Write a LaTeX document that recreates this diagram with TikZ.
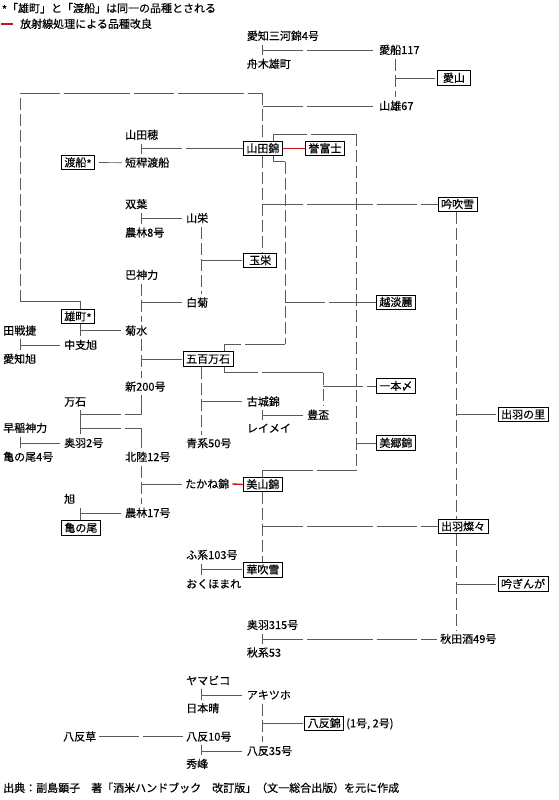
\documentclass[tikz,border=0pt]{standalone}
\usepackage{fontspec}
\newfontfamily\jpf{Noto Sans CJK JP}[FakeBold=0.35]
\newcommand\jpt{\jpf\fontsize{11pt}{13pt}\selectfont}
\newcommand\vstar{\raisebox{-1.5pt}{*}}
\definecolor{lngray}{RGB}{90,90,90}
\definecolor{radred}{RGB}{205,20,20}
\tikzset{
  nm/.style={anchor=west,inner xsep=3pt,inner ysep=3pt,text height=9.5pt,text depth=1.5pt,font=\jpt},
  vb/.style={draw=black,line width=0.8pt,fill=white,anchor=west,minimum width=33pt,minimum height=14.5pt,
    inner xsep=3pt,inner ysep=0pt,text height=9.5pt,text depth=1.5pt,font=\jpt},
  ln/.style={draw=lngray,line width=0.7pt},
  hl/.style={ln,dash pattern=on 40pt off 4pt on 66pt off 4pt},
  vl/.style={ln,dash pattern=on 12pt off 4pt},
  rl/.style={draw=radred,line width=1.4pt}
}
\begin{document}
\begin{tikzpicture}[x=1pt,y=-1pt]
  \useasboundingbox (0,0) rectangle (559,800);
  % Columns and rows for routing
  \coordinate (xA) at (20,0);
  \coordinate (xB) at (80.7,0);
  \coordinate (xC) at (141.7,0);
  \coordinate (xD) at (201.7,0);
  \coordinate (xL) at (224,0);
  \coordinate (xE) at (262.7,0);
  \coordinate (xF) at (273.3,0);
  \coordinate (xG) at (285,0);
  \coordinate (xH) at (323.3,0);
  \coordinate (xI) at (356.7,0);
  \coordinate (xJ) at (395,0);
  \coordinate (xK) at (456,0);
  \coordinate (yTop) at (0,93);
  \coordinate (yYa1) at (0,134.3);
  \coordinate (yYa2) at (0,161.7);
  \coordinate (yOm) at (0,301.7);
  \coordinate (yGo1) at (0,344);
  \coordinate (yGo2) at (0,372.7);
  \coordinate (yMa1) at (0,414);
  \coordinate (yMa2) at (0,428.3);
  \coordinate (yMi) at (0,470);

  % Legend
  \node[nm] (note1) at (-1.3,8.3) {\vstar「雄町」と「渡船」は同一の品種とされる};
  \node[nm] (note2) at (17,24) {放射線処理による品種改良};
  \draw[rl,line width=2pt] ([xshift=-16pt]note2.west) -- ([xshift=-4.5pt]note2.west);

  % Plain varieties
  \node[nm] (aichimikawa) at (243.7,36) {愛知三河錦4号};
  \node[nm] (funaki) at (243.7,64) {舟木雄町};
  \node[nm] (aifune) at (376,50) {愛船117};
  \node[nm] (sanyu) at (376,106) {山雄67};
  \node[nm] (yamadaho) at (122,135) {山田穂};
  \node[nm] (tankan) at (122,162.7) {短稈渡船};
  \node[nm] (futaba) at (122,204.3) {双葉};
  \node[nm] (norin8) at (122,232.7) {農林8号};
  \node[nm] (yamasakae) at (183,218.3) {山栄};
  \node[nm] (tomoe) at (122,275) {巴神力};
  \node[nm] (shiragiku) at (183,302.7) {白菊};
  \node[nm] (densen) at (0,330.7) {田戦捷};
  \node[nm] (kikusui) at (122,330.7) {菊水};
  \node[nm] (chushi) at (61,345) {中支旭};
  \node[nm] (aichiasahi) at (0,359) {愛知旭};
  \node[nm] (shin200) at (122,386.7) {新200号};
  \node[nm] (mangoku) at (61,401.7) {万石};
  \node[nm] (kojo) at (243.7,401.7) {古城錦};
  \node[nm] (hosai) at (304,415) {豊盃};
  \node[nm] (reimei) at (243.7,428.3) {レイメイ};
  \node[nm] (wase) at (0,428) {早稲神力};
  \node[nm] (ou2) at (61,443) {奥羽2号};
  \node[nm] (seikei) at (183,443.3) {青系50号};
  \node[nm] (hoku12) at (122,457) {北陸12号};
  \node[nm] (kamenoo4) at (0,457) {亀の尾4号};
  \node[nm] (takane) at (182,484) {たかね錦};
  \node[nm] (asahi) at (61,499) {旭};
  \node[nm] (norin17) at (122,513) {農林17号};
  \node[nm] (fukei) at (183,555) {ふ系103号};
  \node[nm] (okuhomare) at (183,584) {おくほまれ};
  \node[nm] (ou315) at (243.7,625) {奥羽315号};
  \node[nm] (akita49) at (437,639) {秋田酒49号};
  \node[nm] (akikei) at (243.7,652.7) {秋系53};
  \node[nm] (yamabiko) at (183,680.7) {ヤマビコ};
  \node[nm] (akitsuho) at (243.7,695) {アキツホ};
  \node[nm] (nihonbare) at (183,708.3) {日本晴};
  \node[nm] (hattan10) at (183,736.7) {八反10号};
  \node[nm] (hattangusa) at (60,736.7) {八反草};
  \node[nm] (hattan35) at (243.7,751) {八反35号};
  \node[nm] (shuho) at (183,764) {秀峰};

  % Boxed varieties
  \node[vb] (aiyama) at (437,78) {愛山};
  \node[vb] (yamadanishiki) at (243,148.5) {山田錦};
  \node[vb] (homarefuji) at (305,148.5) {誉富士};
  \node[vb] (watafune) at (61,162.5) {渡船\vstar};
  \node[vb] (ginfubuki) at (437.7,204.3) {吟吹雪};
  \node[vb] (tamasakae) at (243.3,260.5) {玉栄};
  \node[vb] (koshitanrei) at (376,302.2) {越淡麗};
  \node[vb] (omachi) at (61,316.5) {雄町\vstar};
  \node[vb] (gohyaku) at (182.7,359) {五百万石};
  \node[vb] (ippon) at (376,386) {一本〆};
  \node[vb] (dewanosato) at (497.7,414.5) {出羽の里};
  \node[vb] (misato) at (376,443) {美郷錦};
  \node[vb] (miyama) at (243,484.5) {美山錦};
  \node[vb] (kamenoo) at (61,528) {亀の尾};
  \node[vb] (dewasansan) at (437.7,526.5) {出羽燦々};
  \node[vb] (hanafubuki) at (243,569.7) {華吹雪};
  \node[vb] (ginginga) at (497.7,584) {吟ぎんが};
  \node[vb] (hattannishiki) at (304.3,723.3) {八反錦};
  \node[nm,inner xsep=2pt] (hattannote) at (hattannishiki.east) {(1号, 2号)};

  % Aiyama
  \draw[ln] (aichimikawa.south -| xE) -- (funaki.north -| xE);
  \draw[hl] (aifune.west -| xE) -- (aifune.west);
  \draw[vl] (aifune.south -| xJ) -- (sanyu.north -| xJ);
  \draw[hl] (aiyama.west -| xJ) -- (aiyama.west);

  % Omachi loop to Yamada-nishiki
  \draw[ln] (omachi.north -| xB) |- (xA |- yOm);
  \draw[vl] (xA |- yOm) -- (xA |- yTop);
  \draw[hl] (xA |- yTop) -- (xE |- yTop);
  \draw[vl] (xE |- yTop) -- (yamadanishiki.north -| xE);
  \draw[hl] (sanyu.west -| xE) -- (sanyu.west);

  % Yamada-nishiki
  \draw[ln] (yamadaho.south -| xC) -- (tankan.north -| xC);
  \draw[hl] (yamadanishiki.west -| xC) -- (yamadanishiki.west);
  \draw[ln,shorten <=4pt] (watafune.east) -- (tankan.west);
  \draw[rl] (yamadanishiki.east) -- (homarefuji.west);

  % Yamada-nishiki to Misato-nishiki
  \draw[hl] (yamadanishiki.north -| xF) |- (xI |- yYa1);
  \draw[vl] (xI |- yYa1) -- (xI |- yMi);
  \draw[hl] (xI |- yMi) -| (miyama.north -| xE);
  \draw[hl] (misato.west -| xI) -- (misato.west);

  % Yamada-nishiki to Koshitanrei
  \draw[ln] (yamadanishiki.south -| xF) |- (xG |- yYa2);
  \draw[vl] (xG |- yYa2) -- (xG |- yGo1);
  \draw[hl] (xG |- yGo1) -| (gohyaku.north -| xL);
  \draw[hl] (koshitanrei.west -| xG) -- (koshitanrei.west);

  % Ginfubuki
  \draw[vl] (yamadanishiki.south -| xE) -- (tamasakae.north -| xE);
  \draw[hl] (ginfubuki.west -| xE) -- (ginfubuki.west);

  % Tamasakae
  \draw[ln] (futaba.south -| xC) -- (norin8.north -| xC);
  \draw[hl] (yamasakae.west -| xC) -- (yamasakae.west);
  \draw[vl] (yamasakae.south -| xD) -- (shiragiku.north -| xD);
  \draw[hl] (tamasakae.west -| xD) -- (tamasakae.west);

  % Shiragiku and Gohyakumangoku
  \draw[vl] (tomoe.south -| xC) -- (kikusui.north -| xC);
  \draw[hl] (shiragiku.west -| xC) -- (shiragiku.west);
  \draw[vl] (kikusui.south -| xC) -- (shin200.north -| xC);
  \draw[hl] (gohyaku.west -| xC) -- (gohyaku.west);

  % Kikusui
  \draw[ln] (omachi.south -| xB) -- (chushi.north -| xB);
  \draw[hl] (kikusui.west -| xB) -- (kikusui.west);
  \draw[ln] (densen.south -| xA) -- (aichiasahi.north -| xA);
  \draw[hl] (chushi.west -| xA) -- (chushi.west);

  % Shin 200 and Hokuriku 12
  \draw[ln] (mangoku.south -| xB) -- (ou2.north -| xB);
  \draw[hl] (xB |- yMa1) -| (shin200.south -| xC);
  \draw[hl] (xB |- yMa2) -| (hoku12.north -| xC);
  \draw[ln] (wase.south -| xA) -- (kamenoo4.north -| xA);
  \draw[hl] (ou2.west -| xA) -- (ou2.west);

  % Takane-nishiki
  \draw[vl] (hoku12.south -| xC) -- (norin17.north -| xC);
  \draw[hl] (takane.west -| xC) -- (takane.west);
  \draw[rl] (takane.east) -- (miyama.west);
  \draw[ln] (asahi.south -| xB) -- (kamenoo.north -| xB);
  \draw[hl] (norin17.west -| xB) -- (norin17.west);

  % Ipponjime
  \draw[vl] (gohyaku.south -| xD) -- (seikei.north -| xD);
  \draw[hl] (kojo.west -| xD) -- (kojo.west);
  \draw[ln] (kojo.south -| xE) -- (reimei.north -| xE);
  \draw[hl] (hosai.west -| xE) -- (hosai.west);
  \draw[hl] (gohyaku.south -| xL) |- (xH |- yGo2);
  \draw[vl] (xH |- yGo2) -- (hosai.north -| xH);
  \draw[hl] (ippon.west -| xH) -- (ippon.west);

  % Dewasansan
  \draw[vl] (miyama.south -| xE) -- (hanafubuki.north -| xE);
  \draw[hl] (dewasansan.west -| xE) -- (dewasansan.west);
  \draw[ln] (fukei.south -| xD) -- (okuhomare.north -| xD);
  \draw[hl] (hanafubuki.west -| xD) -- (hanafubuki.west);

  % Dewanosato and Ginginga
  \draw[vl] (ginfubuki.south -| xK) -- (dewasansan.north -| xK);
  \draw[hl] (dewanosato.west -| xK) -- (dewanosato.west);
  \draw[vl] (dewasansan.south -| xK) -- (akita49.north -| xK);
  \draw[hl] (ginginga.west -| xK) -- (ginginga.west);
  \draw[ln] (ou315.south -| xE) -- (akikei.north -| xE);
  \draw[hl] (akita49.west -| xE) -- (akita49.west);

  % Hattan-nishiki
  \draw[ln] (yamabiko.south -| xD) -- (nihonbare.north -| xD);
  \draw[hl] (akitsuho.west -| xD) -- (akitsuho.west);
  \draw[vl] (akitsuho.south -| xE) -- (hattan35.north -| xE);
  \draw[hl] (hattannishiki.west -| xE) -- (hattannishiki.west);
  \draw[ln] (hattan10.south -| xD) -- (shuho.north -| xD);
  \draw[hl] (hattan35.west -| xD) -- (hattan35.west);
  \draw[hl] (hattangusa.east) -- (hattan10.west);

  % Source
  \node[nm] (source) at (0,788) {出典：副島顕子　著「酒米ハンドブック　改訂版」（文一総合出版）を元に作成};
\end{tikzpicture}
\end{document}
